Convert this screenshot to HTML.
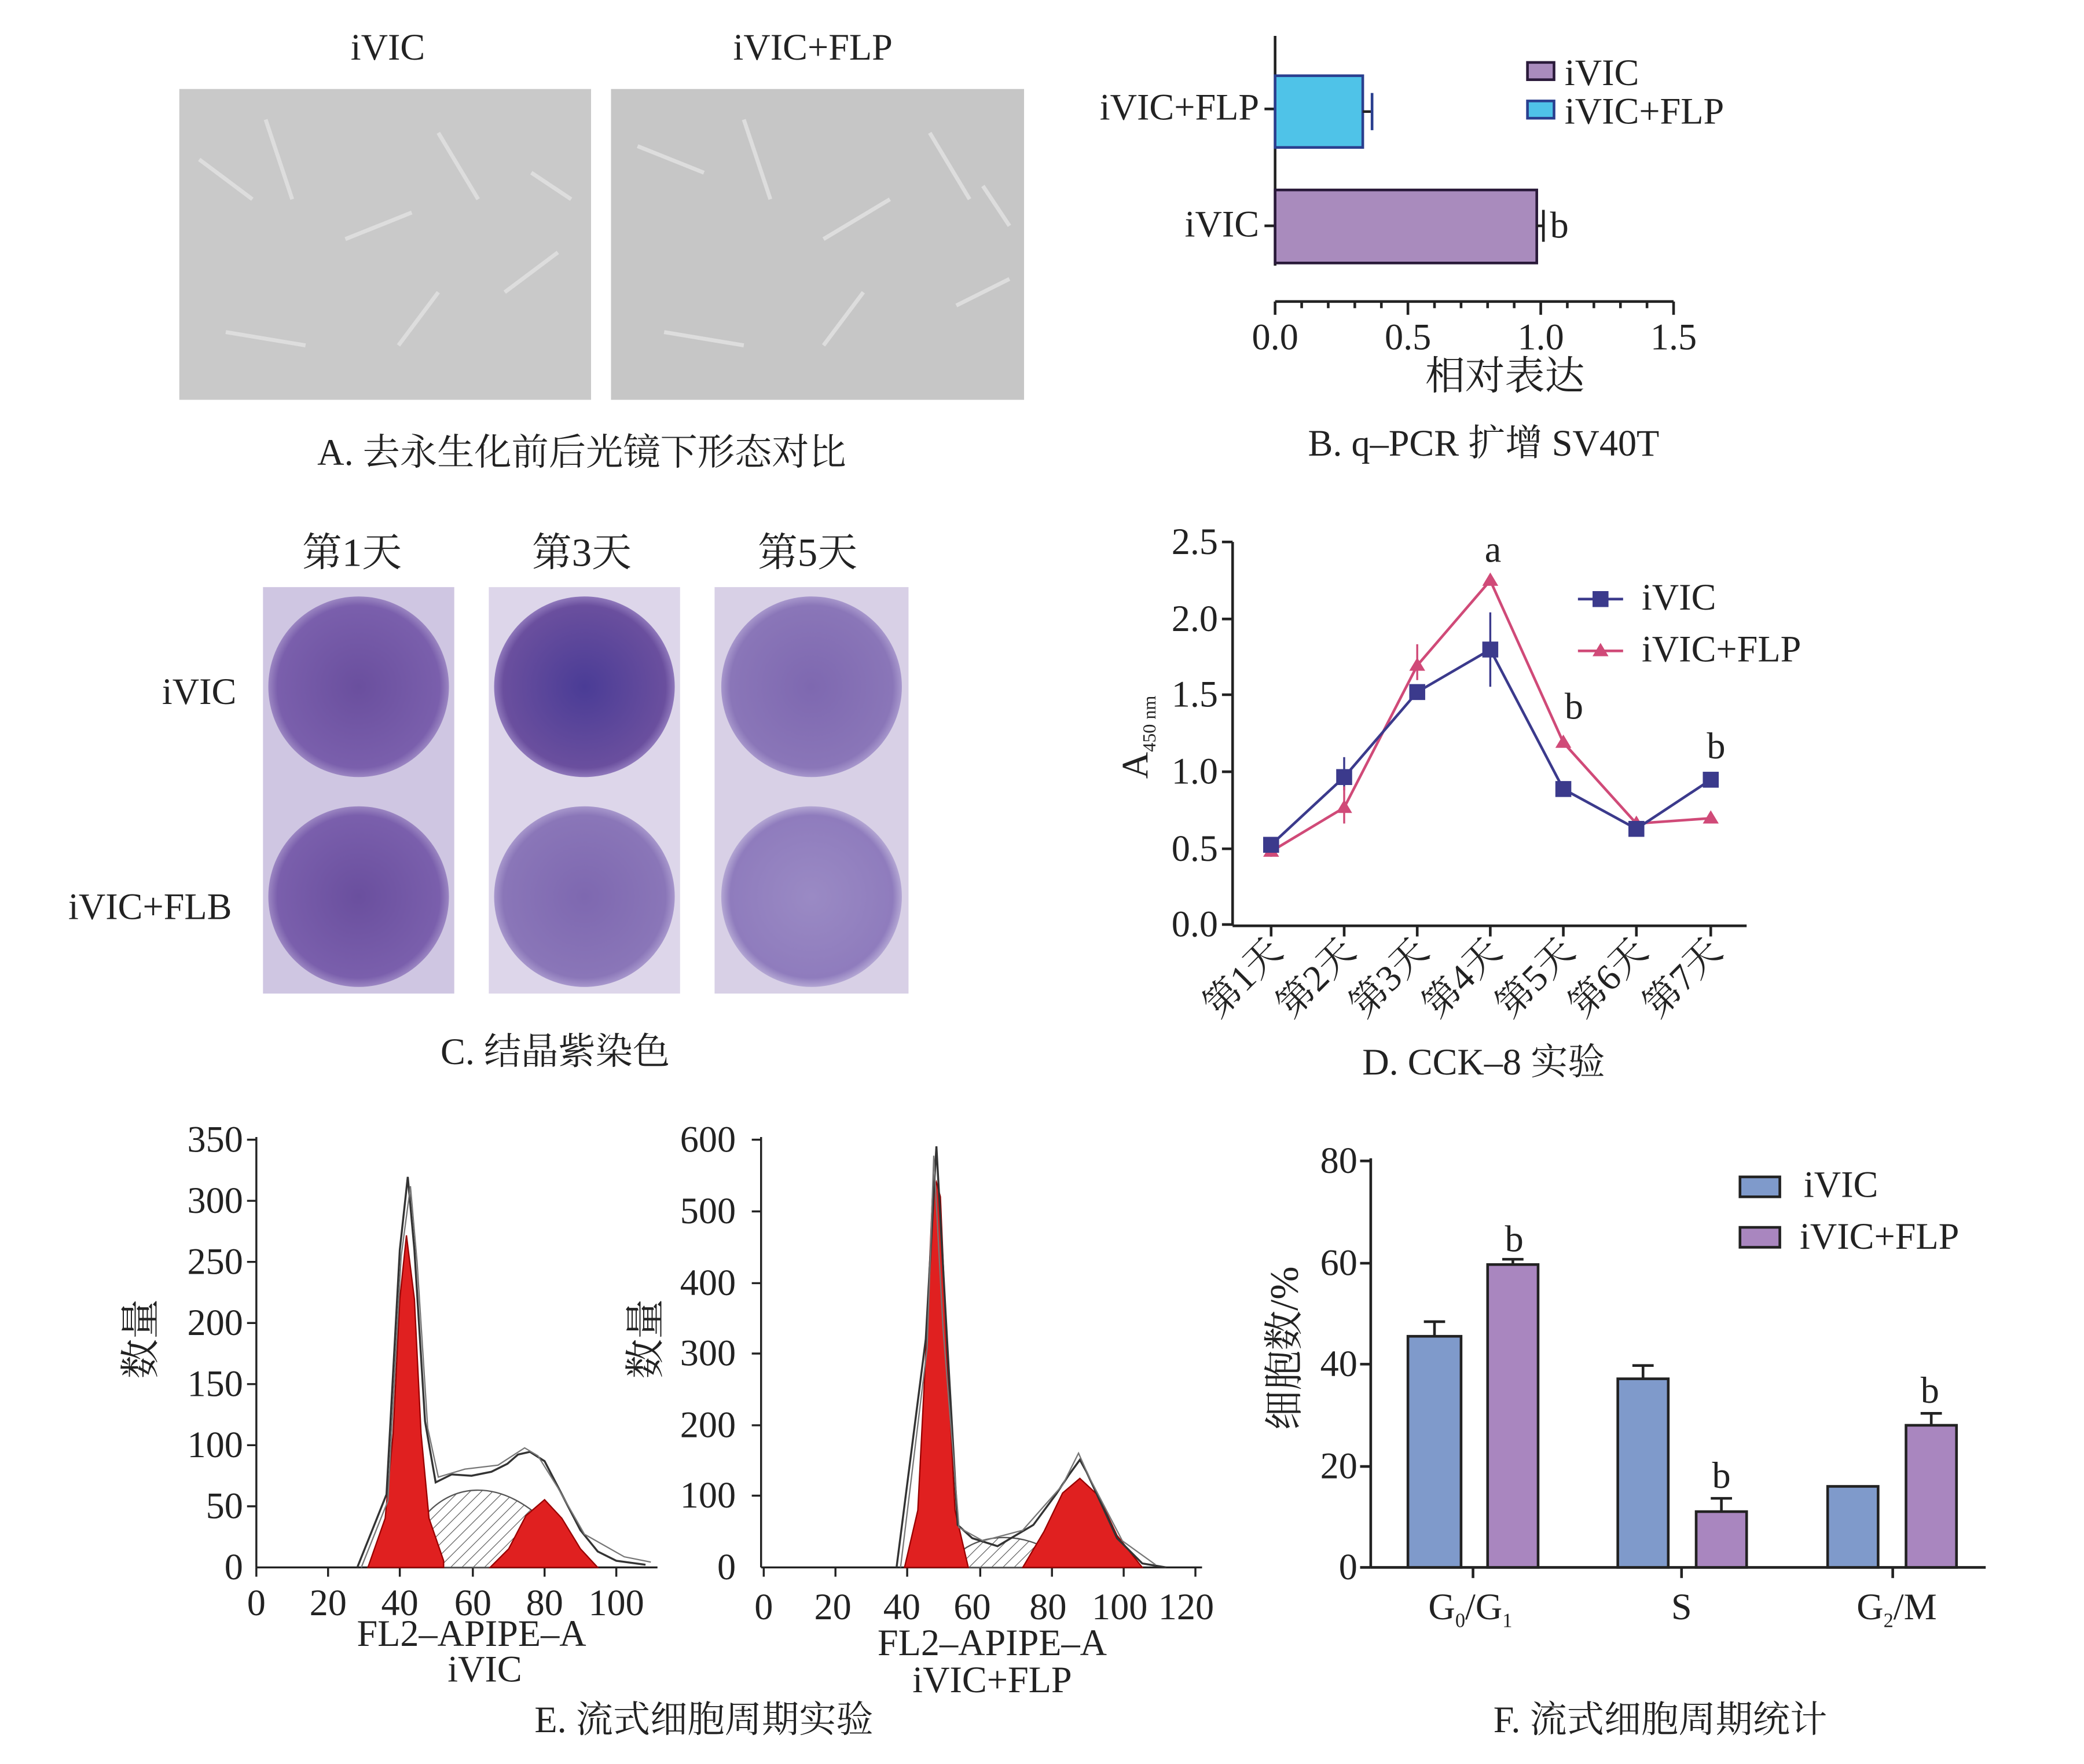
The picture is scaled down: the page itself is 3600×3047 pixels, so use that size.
<!DOCTYPE html>
<html><head><meta charset="utf-8"><style>
html,body{margin:0;padding:0;background:#fff}
svg{display:block}
text{font-family:"Liberation Serif","Noto Serif CJK SC",serif;fill:#222}
</style></head><body>
<svg width="3600" height="3047" viewBox="0 0 1569 1328" preserveAspectRatio="none" xmlns="http://www.w3.org/2000/svg">
<defs>
<pattern id="hatch" width="6" height="6" patternUnits="userSpaceOnUse" patternTransform="rotate(45)">
<rect width="6" height="6" fill="#fff"/><line x1="0" y1="0" x2="0" y2="6" stroke="#555" stroke-width="1"/></pattern>
<radialGradient id="w1" cx="50%" cy="50%" r="50%"><stop offset="0" stop-color="#6a4f9e"/><stop offset="0.9" stop-color="#7a5fac"/><stop offset="1" stop-color="#9b86c2"/></radialGradient>
<radialGradient id="w2" cx="50%" cy="50%" r="50%"><stop offset="0" stop-color="#4a3c96"/><stop offset="0.9" stop-color="#6a4f9e"/><stop offset="1" stop-color="#8f78bb"/></radialGradient>
<radialGradient id="w3" cx="50%" cy="50%" r="50%"><stop offset="0" stop-color="#7e68b0"/><stop offset="0.9" stop-color="#8a76b8"/><stop offset="1" stop-color="#a797cc"/></radialGradient>
<radialGradient id="w4" cx="50%" cy="50%" r="50%"><stop offset="0" stop-color="#9a8ac4"/><stop offset="0.9" stop-color="#8f7cbd"/><stop offset="1" stop-color="#b3a6d3"/></radialGradient>
</defs>
<!-- Panel A -->
<text x="292" y="45" font-size="28" text-anchor="middle">iVIC</text>
<text x="612" y="45" font-size="28" text-anchor="middle">iVIC+FLP</text>
<rect x="135" y="67" width="310" height="234" fill="#c9c9c9"/>
<rect x="460" y="67" width="311" height="234" fill="#c6c6c6"/>
<g stroke="#e2e2e2" stroke-width="3" fill="none" opacity="0.8">
<path d="M150 120 l40 30 M200 90 l20 60 M260 180 l50 -20 M330 100 l30 50 M380 220 l40 -30 M170 250 l60 10 M300 260 l30 -40 M400 130 l30 20"/>
<path d="M480 110 l50 20 M560 90 l20 60 M620 180 l50 -30 M700 100 l30 50 M720 230 l40 -20 M500 250 l60 10 M620 260 l30 -40 M740 140 l20 30"/>
</g>
<text x="438" y="350" font-size="28" text-anchor="middle">A. 去永生化前后光镜下形态对比</text>
<!-- Panel B -->
<line x1="960" y1="27" x2="960" y2="200" stroke="#222" stroke-width="2"/>
<line x1="960" y1="227" x2="1260" y2="227" stroke="#222" stroke-width="2"/>
<g stroke="#222" stroke-width="2">
<line x1="960" y1="227" x2="960" y2="237"/><line x1="1060" y1="227" x2="1060" y2="237"/><line x1="1160" y1="227" x2="1160" y2="237"/><line x1="1260" y1="227" x2="1260" y2="237"/>
<line x1="980" y1="227" x2="980" y2="232"/><line x1="1000" y1="227" x2="1000" y2="232"/><line x1="1020" y1="227" x2="1020" y2="232"/><line x1="1040" y1="227" x2="1040" y2="232"/>
<line x1="1080" y1="227" x2="1080" y2="232"/><line x1="1100" y1="227" x2="1100" y2="232"/><line x1="1120" y1="227" x2="1120" y2="232"/><line x1="1140" y1="227" x2="1140" y2="232"/>
<line x1="1180" y1="227" x2="1180" y2="232"/><line x1="1200" y1="227" x2="1200" y2="232"/><line x1="1220" y1="227" x2="1220" y2="232"/><line x1="1240" y1="227" x2="1240" y2="232"/>
<line x1="952" y1="82" x2="960" y2="82"/><line x1="952" y1="170" x2="960" y2="170"/>
</g>
<rect x="960" y="57" width="66" height="54" fill="#4fc3e8" stroke="#2a3f8f" stroke-width="2"/>
<rect x="960" y="143" width="197" height="55" fill="#a98bbd" stroke="#2a1a3a" stroke-width="2"/>
<g stroke="#222" stroke-width="2"><line x1="1026" y1="84" x2="1033" y2="84"/><line x1="1033" y1="70" x2="1033" y2="98" stroke="#2a3f8f"/><line x1="1157" y1="170" x2="1162" y2="170"/><line x1="1162" y1="158" x2="1162" y2="182"/></g>
<text x="948" y="90" font-size="28" text-anchor="end">iVIC+FLP</text>
<text x="948" y="178" font-size="28" text-anchor="end">iVIC</text>
<text x="1167" y="179" font-size="28">b</text>
<g font-size="28" text-anchor="middle"><text x="960" y="263">0.0</text><text x="1060" y="263">0.5</text><text x="1160" y="263">1.0</text><text x="1260" y="263">1.5</text></g>
<text x="1133" y="293" font-size="30" text-anchor="middle">相对表达</text>
<rect x="1150" y="47" width="20" height="13" fill="#a98bbd" stroke="#2a1a3a" stroke-width="2"/>
<text x="1178" y="64" font-size="28">iVIC</text>
<rect x="1150" y="76" width="20" height="13" fill="#4fc3e8" stroke="#2a3f8f" stroke-width="2"/>
<text x="1178" y="93" font-size="28">iVIC+FLP</text>
<text x="1117" y="343" font-size="28" text-anchor="middle">B. q–PCR 扩增 SV40T</text>
<!-- Panel C -->
<text x="265" y="426" font-size="30" text-anchor="middle">第1天</text>
<text x="438" y="426" font-size="30" text-anchor="middle">第3天</text>
<text x="608" y="426" font-size="30" text-anchor="middle">第5天</text>
<text x="150" y="530" font-size="28" text-anchor="middle">iVIC</text>
<text x="113" y="692" font-size="28" text-anchor="middle">iVIC+FLB</text>
<rect x="198" y="442" width="144" height="306" fill="#cfc6e2"/>
<rect x="368" y="442" width="144" height="306" fill="#ddd6ea"/>
<rect x="538" y="442" width="146" height="306" fill="#d8d0e6"/>
<circle cx="270" cy="517" r="68" fill="url(#w1)"/>
<circle cx="270" cy="675" r="68" fill="url(#w1)"/>
<circle cx="440" cy="517" r="68" fill="url(#w2)"/>
<circle cx="440" cy="675" r="68" fill="url(#w3)"/>
<circle cx="611" cy="517" r="68" fill="url(#w3)"/>
<circle cx="611" cy="675" r="68" fill="url(#w4)"/>
<text x="418" y="801" font-size="28" text-anchor="middle">C. 结晶紫染色</text>
<!-- Panel D -->
<line x1="928" y1="408" x2="928" y2="697" stroke="#222" stroke-width="2"/>
<line x1="928" y1="697" x2="1315" y2="697" stroke="#222" stroke-width="2"/>
<g stroke="#222" stroke-width="2">
<line x1="920" y1="408" x2="928" y2="408"/><line x1="920" y1="466" x2="928" y2="466"/><line x1="920" y1="523" x2="928" y2="523"/><line x1="920" y1="581" x2="928" y2="581"/><line x1="920" y1="639" x2="928" y2="639"/><line x1="920" y1="696" x2="928" y2="696"/>
<line x1="957" y1="697" x2="957" y2="705"/><line x1="1012" y1="697" x2="1012" y2="705"/><line x1="1067" y1="697" x2="1067" y2="705"/><line x1="1122" y1="697" x2="1122" y2="705"/><line x1="1177" y1="697" x2="1177" y2="705"/><line x1="1232" y1="697" x2="1232" y2="705"/><line x1="1288" y1="697" x2="1288" y2="705"/>
</g>
<g font-size="28" text-anchor="end"><text x="917" y="417">2.5</text><text x="917" y="475">2.0</text><text x="917" y="532">1.5</text><text x="917" y="590">1.0</text><text x="917" y="648">0.5</text><text x="917" y="705">0.0</text></g>
<text transform="translate(864,555) rotate(-90)" font-size="28" text-anchor="middle">A<tspan font-size="14" dy="6">450 nm</tspan></text>
<g font-size="28" text-anchor="end">
<text transform="translate(967,718) rotate(-45)">第1天</text><text transform="translate(1022,718) rotate(-45)">第2天</text><text transform="translate(1077,718) rotate(-45)">第3天</text><text transform="translate(1132,718) rotate(-45)">第4天</text><text transform="translate(1187,718) rotate(-45)">第5天</text><text transform="translate(1242,718) rotate(-45)">第6天</text><text transform="translate(1298,718) rotate(-45)">第7天</text>
</g>
<g stroke="#3b3a8c" stroke-width="1.5"><line x1="957" y1="630" x2="957" y2="645"/><line x1="1012" y1="570" x2="1012" y2="595"/><line x1="1122" y1="461" x2="1122" y2="517"/></g>
<g stroke="#d04a78" stroke-width="1.5"><line x1="1012" y1="592" x2="1012" y2="620"/><line x1="1067" y1="485" x2="1067" y2="512"/></g>
<polyline points="957,641 1012,608 1067,501 1122,437 1177,559 1232,620 1288,616" fill="none" stroke="#d04a78" stroke-width="2"/>
<g fill="#d04a78"><path d="M957 635 l6 10 h-12z"/><path d="M1012 602 l6 10 h-12z"/><path d="M1067 495 l6 10 h-12z"/><path d="M1122 431 l6 10 h-12z"/><path d="M1177 553 l6 10 h-12z"/><path d="M1232 614 l6 10 h-12z"/><path d="M1288 610 l6 10 h-12z"/></g>
<polyline points="957,636 1012,585 1067,521 1122,489 1177,594 1232,624 1288,587" fill="none" stroke="#3b3a8c" stroke-width="2"/>
<g fill="#3b3a8c"><rect x="951" y="630" width="12" height="12"/><rect x="1006" y="579" width="12" height="12"/><rect x="1061" y="515" width="12" height="12"/><rect x="1116" y="483" width="12" height="12"/><rect x="1171" y="588" width="12" height="12"/><rect x="1226" y="618" width="12" height="12"/><rect x="1282" y="581" width="12" height="12"/></g>
<text x="1124" y="423" font-size="28" text-anchor="middle">a</text>
<text x="1185" y="541" font-size="28" text-anchor="middle">b</text>
<text x="1292" y="571" font-size="28" text-anchor="middle">b</text>
<line x1="1188" y1="451" x2="1222" y2="451" stroke="#3b3a8c" stroke-width="2"/><rect x="1199" y="445" width="12" height="12" fill="#3b3a8c"/>
<text x="1236" y="459" font-size="28">iVIC</text>
<line x1="1188" y1="490" x2="1222" y2="490" stroke="#d04a78" stroke-width="2"/><path d="M1205 484 l6 10 h-12z" fill="#d04a78"/>
<text x="1236" y="498" font-size="28">iVIC+FLP</text>
<text x="1117" y="809" font-size="28" text-anchor="middle">D. CCK–8 实验</text>
<!-- Panel E1 -->
<line x1="193" y1="856" x2="193" y2="1180" stroke="#222" stroke-width="1.5"/>
<line x1="193" y1="1180" x2="495" y2="1180" stroke="#222" stroke-width="1.5"/>
<g font-size="28" text-anchor="end"><text x="183" y="867">350</text><text x="183" y="913">300</text><text x="183" y="959">250</text><text x="183" y="1005">200</text><text x="183" y="1051">150</text><text x="183" y="1097">100</text><text x="183" y="1143">50</text><text x="183" y="1189">0</text></g>
<g stroke="#222" stroke-width="1.5"><line x1="186" y1="858" x2="193" y2="858"/><line x1="186" y1="904" x2="193" y2="904"/><line x1="186" y1="950" x2="193" y2="950"/><line x1="186" y1="996" x2="193" y2="996"/><line x1="186" y1="1042" x2="193" y2="1042"/><line x1="186" y1="1088" x2="193" y2="1088"/><line x1="186" y1="1134" x2="193" y2="1134"/>
<line x1="193" y1="1180" x2="193" y2="1187"/><line x1="247" y1="1180" x2="247" y2="1187"/><line x1="301" y1="1180" x2="301" y2="1187"/><line x1="356" y1="1180" x2="356" y2="1187"/><line x1="410" y1="1180" x2="410" y2="1187"/><line x1="464" y1="1180" x2="464" y2="1187"/></g>
<g font-size="28" text-anchor="middle"><text x="193" y="1216">0</text><text x="247" y="1216">20</text><text x="301" y="1216">40</text><text x="356" y="1216">60</text><text x="410" y="1216">80</text><text x="464" y="1216">100</text></g>
<text x="355" y="1239" font-size="28" text-anchor="middle">FL2–APIPE–A</text>
<text x="365" y="1266" font-size="28" text-anchor="middle">iVIC</text>
<text transform="translate(116,1008) rotate(-90)" font-size="30" text-anchor="middle">数量</text>
<path d="M301 1180 C 320 1105, 390 1100, 437 1180 Z" fill="url(#hatch)" stroke="#555" stroke-width="1"/>
<path d="M277 1180 L290 1143 L296 1079 L301 978 L306 930 L312 978 L317 1079 L323 1143 L334 1175 L334 1180Z" fill="#e02020" stroke="#900" stroke-width="1"/>
<path d="M369 1180 L383 1166 L396 1141 L410 1129 L423 1143 L437 1166 L450 1180Z" fill="#e02020" stroke="#900" stroke-width="1"/>
<polyline points="269,1180 291,1125 301,941 307,886 312,941 320,1070 328,1116 340,1110 355,1111 370,1108 382,1102 390,1095 399,1093 410,1100 423,1125 437,1152 450,1168 464,1175 486,1178" fill="none" stroke="#333" stroke-width="1.5"/>
<polyline points="272,1180 292,1130 302,946 309,893 314,950 322,1075 330,1112 350,1106 375,1103 395,1090 405,1096 420,1120 440,1155 470,1172 490,1176" fill="none" stroke="#777" stroke-width="1"/>
<!-- Panel E2 -->
<line x1="573" y1="856" x2="573" y2="1180" stroke="#222" stroke-width="1.5"/>
<line x1="573" y1="1180" x2="905" y2="1180" stroke="#222" stroke-width="1.5"/>
<g font-size="28" text-anchor="end"><text x="554" y="867">600</text><text x="554" y="921">500</text><text x="554" y="975">400</text><text x="554" y="1028">300</text><text x="554" y="1082">200</text><text x="554" y="1135">100</text><text x="554" y="1189">0</text></g>
<g stroke="#222" stroke-width="1.5"><line x1="566" y1="858" x2="573" y2="858"/><line x1="566" y1="912" x2="573" y2="912"/><line x1="566" y1="966" x2="573" y2="966"/><line x1="566" y1="1019" x2="573" y2="1019"/><line x1="566" y1="1073" x2="573" y2="1073"/><line x1="566" y1="1126" x2="573" y2="1126"/>
<line x1="575" y1="1180" x2="575" y2="1187"/><line x1="629" y1="1180" x2="629" y2="1187"/><line x1="683" y1="1180" x2="683" y2="1187"/><line x1="738" y1="1180" x2="738" y2="1187"/><line x1="792" y1="1180" x2="792" y2="1187"/><line x1="846" y1="1180" x2="846" y2="1187"/><line x1="900" y1="1180" x2="900" y2="1187"/></g>
<g font-size="28" text-anchor="middle"><text x="575" y="1219">0</text><text x="627" y="1219">20</text><text x="679" y="1219">40</text><text x="732" y="1219">60</text><text x="789" y="1219">80</text><text x="843" y="1219">100</text><text x="893" y="1219">120</text></g>
<text x="747" y="1246" font-size="28" text-anchor="middle">FL2–APIPE–A</text>
<text x="747" y="1274" font-size="28" text-anchor="middle">iVIC+FLP</text>
<text transform="translate(496,1008) rotate(-90)" font-size="30" text-anchor="middle">数量</text>
<path d="M713 1180 C 730 1150, 780 1150, 805 1180 Z" fill="url(#hatch)" stroke="#555" stroke-width="1"/>
<path d="M681 1180 L691 1137 L697 1019 L702 901 L705 890 L708 901 L713 1019 L719 1137 L729 1180Z" fill="#e02020" stroke="#900" stroke-width="1"/>
<path d="M770 1180 L786 1153 L800 1124 L813 1113 L827 1126 L841 1156 L860 1180Z" fill="#e02020" stroke="#900" stroke-width="1"/>
<polyline points="675,1180 697,1008 705,863 713,1008 721,1148 732,1158 751,1164 778,1148 795,1125 805,1110 813,1099 818,1108 824,1121 841,1158 860,1177 878,1180" fill="none" stroke="#333" stroke-width="1.5"/>
<polyline points="678,1180 698,1015 703,870 710,1000 722,1150 740,1160 770,1152 800,1118 812,1094 820,1112 845,1160 870,1178" fill="none" stroke="#777" stroke-width="1"/>
<text x="530" y="1304" font-size="28" text-anchor="middle">E. 流式细胞周期实验</text>
<!-- Panel F -->
<line x1="1032" y1="872" x2="1032" y2="1180" stroke="#222" stroke-width="2"/>
<line x1="1032" y1="1180" x2="1495" y2="1180" stroke="#222" stroke-width="2"/>
<g stroke="#222" stroke-width="2"><line x1="1024" y1="874" x2="1032" y2="874"/><line x1="1024" y1="951" x2="1032" y2="951"/><line x1="1024" y1="1027" x2="1032" y2="1027"/><line x1="1024" y1="1104" x2="1032" y2="1104"/><line x1="1024" y1="1180" x2="1032" y2="1180"/>
<line x1="1109" y1="1180" x2="1109" y2="1188"/><line x1="1266" y1="1180" x2="1266" y2="1188"/><line x1="1425" y1="1180" x2="1425" y2="1188"/></g>
<g font-size="28" text-anchor="end"><text x="1022" y="883">80</text><text x="1022" y="960">60</text><text x="1022" y="1036">40</text><text x="1022" y="1113">20</text><text x="1022" y="1189">0</text></g>
<text transform="translate(977,1015) rotate(-90)" font-size="30" text-anchor="middle">细胞数/%</text>
<g stroke="#222" stroke-width="2">
<rect x="1060" y="1006" width="40" height="174" fill="#7f9acb"/>
<rect x="1120" y="952" width="38" height="228" fill="#a986bf"/>
<rect x="1218" y="1038" width="38" height="142" fill="#7f9acb"/>
<rect x="1277" y="1138" width="38" height="42" fill="#a986bf"/>
<rect x="1376" y="1119" width="38" height="61" fill="#7f9acb"/>
<rect x="1435" y="1073" width="38" height="107" fill="#a986bf"/>
<line x1="1080" y1="995" x2="1080" y2="1006"/><line x1="1072" y1="995" x2="1088" y2="995"/>
<line x1="1139" y1="948" x2="1139" y2="952"/><line x1="1131" y1="948" x2="1147" y2="948"/>
<line x1="1237" y1="1028" x2="1237" y2="1038"/><line x1="1229" y1="1028" x2="1245" y2="1028"/>
<line x1="1296" y1="1128" x2="1296" y2="1138"/><line x1="1288" y1="1128" x2="1304" y2="1128"/>
<line x1="1454" y1="1064" x2="1454" y2="1073"/><line x1="1446" y1="1064" x2="1462" y2="1064"/>
</g>
<text x="1140" y="942" font-size="28" text-anchor="middle">b</text>
<text x="1296" y="1120" font-size="28" text-anchor="middle">b</text>
<text x="1453" y="1056" font-size="28" text-anchor="middle">b</text>
<text x="1107" y="1219" font-size="28" text-anchor="middle">G<tspan font-size="15" dy="6">0</tspan><tspan dy="-6">/G</tspan><tspan font-size="15" dy="6">1</tspan></text>
<text x="1266" y="1219" font-size="28" text-anchor="middle">S</text>
<text x="1428" y="1219" font-size="28" text-anchor="middle">G<tspan font-size="15" dy="6">2</tspan><tspan dy="-6">/M</tspan></text>
<rect x="1310" y="886" width="30" height="15" fill="#7f9acb" stroke="#222" stroke-width="2"/>
<text x="1358" y="901" font-size="28">iVIC</text>
<rect x="1310" y="924" width="30" height="15" fill="#a986bf" stroke="#222" stroke-width="2"/>
<text x="1355" y="940" font-size="28">iVIC+FLP</text>
<text x="1250" y="1304" font-size="28" text-anchor="middle">F. 流式细胞周期统计</text>
</svg>
</body></html>
